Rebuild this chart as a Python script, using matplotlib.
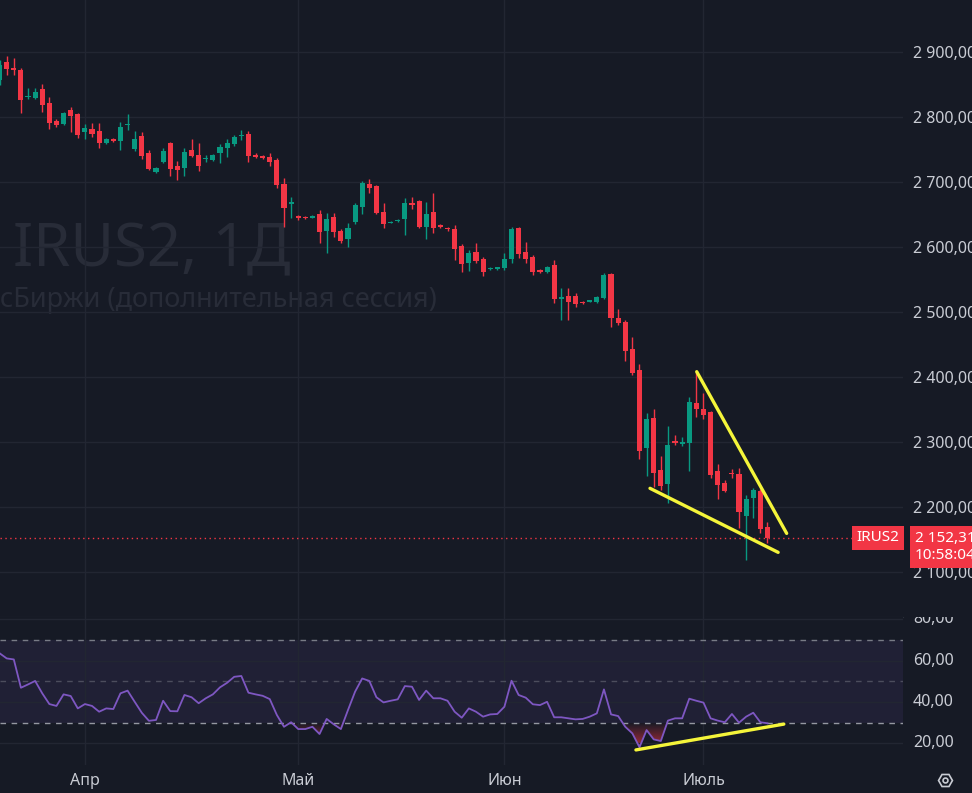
import numpy as np
import matplotlib
matplotlib.use('Agg')
import matplotlib.pyplot as plt
from matplotlib.path import Path
from matplotlib.patches import PathPatch
from matplotlib.transforms import Bbox, TransformedBbox

plt.rcParams['font.family'] = ['Noto Sans', 'DejaVu Sans']

# --- daily candles (OHLC) ---
opens = [2856.4, 2884.6, 2874.4, 2871.8, 2830.7, 2829.2, 2842.6, 2821.5, 2793.8, 2788.7,
         2810.3, 2804.1, 2776.4, 2781.0, 2778.4, 2760.0, 2765.2, 2762.6, 2787.2, 2750.3,
         2770.3, 2744.1, 2714.9, 2730.7, 2760.0, 2724.1, 2720.6, 2748.8, 2741.1, 2734.9,
         2733.4, 2744.1, 2751.8, 2757.5, 2770.3, 2773.3, 2741.1, 2739.5, 2738.4, 2733.4,
         2696.4, 2665.7, 2647.2, 2646.1, 2644.6, 2650.3, 2624.6, 2645.2, 2624.1, 2611.8,
         2638.4, 2661.5, 2696.4, 2693.3, 2652.9, 2636.9, 2639.0, 2642.1, 2667.7, 2670.7,
         2630.7, 2653.8, 2633.3, 2628.2, 2627.2, 2601.0, 2575.4, 2592.3, 2580.6, 2565.2,
         2565.2, 2566.7, 2580.6, 2628.3, 2592.3, 2583.6, 2564.1, 2560.6, 2571.8, 2519.0,
         2524.1, 2524.1, 2515.3, 2515.3, 2515.3, 2520.6, 2557.9, 2490.7, 2484.6, 2442.1,
         2410.3, 2290.7, 2335.9, 2256.4, 2234.9, 2301.1, 2296.0, 2298.4, 2359.0, 2349.8,
         2346.1, 2255.3, 2236.9, 2252.3, 2250.3, 2185.7, 2212.9, 2224.1, 2169.2]
highs = [2887.0, 2893.3, 2890.3, 2874.9, 2844.1, 2843.6, 2850.3, 2830.3, 2796.4, 2807.0,
         2815.3, 2805.7, 2788.7, 2790.3, 2790.3, 2767.0, 2767.6, 2792.3, 2804.1, 2778.4,
         2776.9, 2748.8, 2722.6, 2751.3, 2760.5, 2732.3, 2751.8, 2765.7, 2759.5, 2741.1,
         2742.0, 2758.0, 2765.7, 2771.8, 2779.5, 2778.4, 2744.1, 2741.0, 2744.6, 2736.4,
         2705.6, 2676.9, 2649.5, 2647.7, 2648.0, 2656.4, 2652.3, 2651.8, 2627.2, 2636.9,
         2667.2, 2701.5, 2704.1, 2694.9, 2667.2, 2639.5, 2642.0, 2674.9, 2676.9, 2671.8,
         2669.2, 2682.1, 2634.9, 2630.3, 2633.3, 2604.1, 2594.9, 2605.2, 2584.1, 2568.7,
         2569.2, 2590.7, 2630.7, 2630.7, 2607.7, 2587.2, 2565.7, 2570.3, 2579.5, 2535.9,
         2536.9, 2528.3, 2516.4, 2518.7, 2523.5, 2559.0, 2559.9, 2503.6, 2487.2, 2460.6,
         2419.5, 2343.6, 2349.8, 2277.9, 2324.1, 2310.3, 2307.7, 2369.2, 2407.7, 2375.4,
         2347.6, 2265.7, 2241.0, 2257.5, 2259.0, 2218.0, 2228.3, 2226.7, 2176.9]
lows = [2848.7, 2864.1, 2864.1, 2806.1, 2827.2, 2826.7, 2807.7, 2781.0, 2784.1, 2787.0,
        2776.9, 2767.2, 2765.7, 2768.7, 2751.8, 2758.6, 2760.6, 2748.8, 2779.5, 2747.7,
        2734.9, 2718.0, 2713.4, 2728.3, 2708.7, 2702.6, 2708.7, 2738.0, 2716.9, 2730.3,
        2732.0, 2728.7, 2738.0, 2754.9, 2764.1, 2730.7, 2736.4, 2734.9, 2724.6, 2690.3,
        2630.7, 2644.1, 2641.3, 2643.0, 2643.7, 2606.1, 2590.7, 2614.9, 2605.7, 2599.0,
        2634.6, 2650.3, 2682.6, 2650.3, 2628.7, 2635.8, 2638.0, 2618.0, 2657.5, 2628.2,
        2611.3, 2621.5, 2628.7, 2624.1, 2579.5, 2561.5, 2563.0, 2575.4, 2554.9, 2564.1,
        2564.0, 2564.1, 2574.4, 2582.1, 2574.4, 2556.4, 2559.5, 2559.5, 2513.8, 2487.2,
        2487.2, 2507.7, 2512.6, 2514.9, 2514.0, 2519.0, 2476.9, 2479.5, 2424.6, 2402.6,
        2272.9, 2247.2, 2230.7, 2225.6, 2205.2, 2294.9, 2293.3, 2255.3, 2337.5, 2334.4,
        2243.6, 2211.3, 2222.6, 2243.6, 2166.7, 2118.0, 2182.1, 2159.0, 2143.6]
closes = [2879.5, 2872.9, 2871.8, 2825.7, 2832.3, 2838.4, 2818.0, 2790.7, 2786.7, 2805.7,
          2801.0, 2771.8, 2782.6, 2773.3, 2760.0, 2765.7, 2763.0, 2784.1, 2788.7, 2765.7,
          2739.5, 2719.5, 2721.0, 2747.2, 2719.5, 2718.0, 2746.1, 2739.5, 2724.6, 2736.4,
          2741.1, 2753.3, 2759.5, 2769.2, 2771.8, 2739.5, 2738.4, 2736.4, 2730.7, 2694.9,
          2659.0, 2669.2, 2643.7, 2644.6, 2647.2, 2623.1, 2642.1, 2623.1, 2608.7, 2629.2,
          2664.1, 2697.5, 2689.8, 2651.3, 2634.9, 2638.4, 2641.0, 2667.7, 2664.1, 2630.7,
          2650.3, 2628.3, 2630.7, 2626.7, 2595.9, 2573.3, 2590.7, 2578.4, 2561.5, 2567.6,
          2568.3, 2580.6, 2627.2, 2588.3, 2580.6, 2561.5, 2560.6, 2568.3, 2519.0, 2522.1,
          2515.3, 2511.8, 2513.8, 2517.9, 2522.1, 2556.4, 2489.8, 2482.1, 2440.0, 2405.2,
          2285.6, 2334.4, 2252.3, 2231.8, 2294.9, 2298.4, 2300.0, 2361.5, 2349.8, 2341.1,
          2248.7, 2233.3, 2224.6, 2250.3, 2192.3, 2211.3, 2225.6, 2165.2, 2152.31]

# --- RSI (14) ---
rsi = [63.6, 61.1, 60.6, 46.9, 48.5, 50.2, 44.2, 39.0, 38.1, 43.7,
       42.9, 36.9, 39.0, 38.1, 35.3, 36.9, 36.6, 44.2, 45.5, 40.1,
       34.8, 30.9, 31.3, 40.6, 35.6, 35.5, 43.4, 42.3, 39.4, 41.8,
       43.7, 47.1, 49.3, 52.2, 52.6, 44.5, 43.7, 43.0, 41.4, 33.7,
       28.0, 30.2, 26.9, 26.9, 28.0, 24.5, 31.8, 29.2, 26.9, 36.1,
       45.0, 51.4, 50.2, 42.3, 39.8, 40.6, 41.3, 47.7, 47.4, 41.0,
       45.5, 41.8, 41.8, 40.6, 35.3, 32.4, 36.9, 35.3, 32.9, 34.0,
       34.2, 37.7, 50.3, 43.4, 42.1, 38.9, 38.5, 40.1, 32.6, 32.6,
       32.1, 31.6, 31.8, 32.9, 34.5, 46.1, 34.0, 33.2, 28.0, 24.8,
       18.1, 26.4, 21.9, 21.1, 31.0, 32.1, 32.1, 41.6, 40.6, 39.7,
       32.1, 31.0, 30.2, 34.2, 30.0, 32.9, 34.8, 30.2, 29.7]

month_pos = [12, 42, 71, 99]
month_labels = ['Апр', 'Май', 'Июн', 'Июль']
price_ticks = [2100, 2200, 2300, 2400, 2500, 2600, 2700, 2800, 2900]
rsi_ticks = [20, 40, 60, 80]

# hand-drawn trend lines (bar index, value)
upper_k = [98.05, 110.7]
upper_p = [2407.7, 2159.0]
lower_k = [91.48, 109.5]
lower_p = [2228.3, 2129.8]
rsi_line_k = [89.5, 110.3]
rsi_line_v = [16.8, 29.3]

BG = '#161a25'
GRID = '#222632'
TXT = '#c9ccd4'
UP = '#089981'
DOWN = '#f23645'
YEL = '#f5f53a'
PURPLE = '#7e57c2'


def fmt(v):
    return f"{v:,.2f}".replace(',', ' ').replace('.', ',')


fig = plt.figure(figsize=(9.72, 7.93), dpi=100, facecolor=BG)
ax = fig.add_axes([0, 0.2219, 0.929, 0.7781], facecolor=BG)
ax2 = fig.add_axes([0, 0.0353, 0.929, 0.1866], facecolor=BG)

k = np.arange(len(opens))
o = np.array(opens)
h = np.array(highs)
l = np.array(lows)
c = np.array(closes)
cols = np.where(c >= o, UP, DOWN)

# ===== price pane =====
ax.text(0.0147, 0.5678, 'IRUS2, 1Д', transform=ax.transAxes, fontsize=43,
        color='#282c38', va='baseline', ha='left', zorder=0)
ax.text(0.0, 0.503, 'сБиржи (дополнительная сессия)', transform=ax.transAxes,
        fontsize=19.5, color='#282c38', va='baseline', ha='left', zorder=0)

ax.vlines(k, l, h, colors=cols, lw=1, zorder=3)
ax.bar(k, np.maximum(np.abs(c - o), 1.5), width=0.72, bottom=np.minimum(o, c),
       color=cols, linewidth=0, zorder=4)

ax.axhline(c[-1], color=DOWN, lw=1, ls=(0, (1, 2.5)), zorder=2)

ax.plot(upper_k, upper_p, color=YEL, lw=2.4, solid_capstyle='round', zorder=5)
ax.plot(lower_k, lower_p, color=YEL, lw=2.4, solid_capstyle='round', zorder=5)

ax.set_xlim(0.058, 127.06)
ax.set_ylim(2030.3, 2979.5)
ax.set_yticks(price_ticks)
ax.set_yticklabels([fmt(v) for v in price_ticks])
ax.yaxis.tick_right()
ax.tick_params(axis='y', length=0, pad=7, labelsize=11.5, labelcolor=TXT)
ax.set_xticks(month_pos)
ax.tick_params(axis='x', length=0, labelbottom=False)
ax.grid(True, color=GRID, lw=1, zorder=1)
ax.set_axisbelow(True)
for s in ax.spines.values():
    s.set_visible(False)
ax.spines['bottom'].set_visible(True)
ax.spines['bottom'].set_color('#2a2e39')

# last price labels
ax.annotate('IRUS2', xy=(1, c[-1]), xycoords=('axes fraction', 'data'),
            xytext=(-4, 0), textcoords='offset pixels', ha='right', va='center',
            fontsize=11, fontweight='bold', color='white', annotation_clip=False,
            bbox=dict(boxstyle='square,pad=0.3', fc=DOWN, ec='none'), zorder=10)
ax.annotate(fmt(c[-1]) + '\n10:58:04', xy=(1, c[-1]), xycoords=('axes fraction', 'data'),
            xytext=(12, 7), textcoords='offset pixels', ha='left', va='top',
            fontsize=11, fontweight='bold', color='white', linespacing=1.2,
            annotation_clip=False,
            bbox=dict(boxstyle='square,pad=0.3', fc=DOWN, ec='none'), zorder=10)

# ===== RSI pane =====
r = np.array(rsi)
ax2.axhspan(30, 70, color=PURPLE, alpha=0.1, lw=0, zorder=0)
ax2.axhline(70, color='#787b86', lw=1, ls=(0, (4, 4)), zorder=2)
ax2.axhline(50, color='#787b86', lw=1, ls=(0, (4, 4)), alpha=0.5, zorder=2)
ax2.axhline(30, color='#9598a1', lw=1, ls=(0, (4, 4)), zorder=2)

# oversold gradient: transparent at 30, stronger towards the lows
fb = ax2.fill_between(k, r, 30, where=r < 30, interpolate=True, facecolor='none',
                      edgecolor='none')
paths = fb.get_paths()
if paths:
    clip = PathPatch(Path.make_compound_path(*paths), transform=ax2.transData,
                     facecolor='none', edgecolor='none')
    ax2.add_patch(clip)
    gy = np.linspace(0, 30, 120)
    grad = np.zeros((120, 1, 4))
    grad[:, 0, 0] = 242 / 255
    grad[:, 0, 1] = 54 / 255
    grad[:, 0, 2] = 69 / 255
    grad[:, 0, 3] = np.clip((30 - gy) / 14, 0, 1) * 0.8
    im = ax2.imshow(grad, extent=[k[0], k[-1], 0, 30], aspect='auto',
                    origin='lower', zorder=1, interpolation='bilinear')
    im.set_clip_path(clip)

ax2.plot(k, r, color=PURPLE, lw=1.3, zorder=3)
ax2.plot(rsi_line_k, rsi_line_v, color=YEL, lw=2.4, solid_capstyle='round', zorder=5)

ax2.set_xlim(0.058, 127.06)
ax2.set_ylim(9.5, 81.13)
ax2.set_yticks(rsi_ticks)
ax2.tick_params(axis='y', length=0, labelright=False, labelleft=False)
ax2.set_xticks(month_pos)
ax2.set_xticklabels(month_labels)
ax2.tick_params(axis='x', length=0, pad=6, labelsize=11.5, labelcolor=TXT)
ax2.grid(True, color=GRID, lw=1, zorder=0)
for s in ax2.spines.values():
    s.set_visible(False)

rsi_clip = TransformedBbox(Bbox([[0.929, 0.0353], [1.0, 0.2219]]), fig.transFigure)
for v in rsi_ticks:
    t = ax2.text(1.011, v, fmt(v), transform=ax2.get_yaxis_transform(),
                 ha='left', va='center', fontsize=11.5, color=TXT, clip_on=True)
    t.set_clip_box(rsi_clip)

# settings icon, bottom right
fig.add_artist(plt.Line2D([0.9725], [0.0164], transform=fig.transFigure, marker='H',
                          ms=10, mfc='none', mec=TXT, mew=1.2))
fig.add_artist(plt.Line2D([0.9725], [0.0164], transform=fig.transFigure, marker='o',
                          ms=3.5, mfc='none', mec=TXT, mew=1.2))

fig.savefig('out.png', dpi=100, facecolor=BG)
